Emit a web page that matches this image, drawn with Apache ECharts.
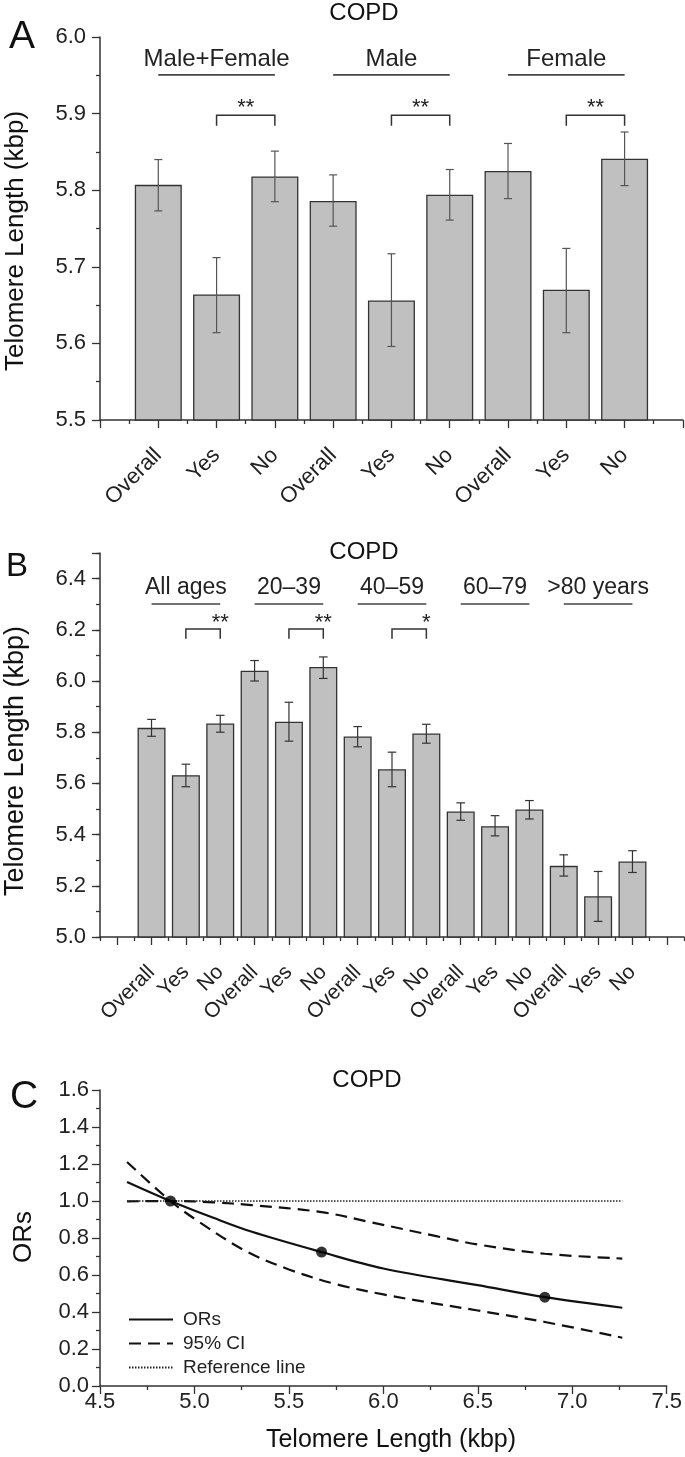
<!DOCTYPE html>
<html><head><meta charset="utf-8">
<script src="https://cdn.jsdelivr.net/npm/echarts@6/dist/echarts.min.js"></script>
<style>html,body{margin:0;padding:0;background:#fff}#c{width:685px;height:1457px}</style>
</head><body><div id="c"></div>
<script>
// ---------- Panel A data ----------
const aCategories = ['Overall','Yes','No','Overall','Yes','No','Overall','Yes','No'];
const aMeans   = [5.807,5.664,5.818,5.786,5.656,5.794,5.825,5.670,5.841];
const aErrLow  = [5.773,5.614,5.785,5.753,5.596,5.761,5.789,5.614,5.806];
const aErrHigh = [5.840,5.712,5.851,5.820,5.717,5.827,5.861,5.724,5.876];
const aGroups = ['Male+Female','Male','Female'];
const aGroupSpans = [[1,3],[4,6],[7,9]];
const aSig = [[2,3,'**'],[5,6,'**'],[8,9,'**']];

// ---------- Panel B data ----------
const bCategories = ['Overall','Yes','No','Overall','Yes','No','Overall','Yes','No','Overall','Yes','No','Overall','Yes','No'];
const bMeans   = [5.817,5.632,5.834,6.040,5.841,6.055,5.783,5.655,5.795,5.490,5.433,5.498,5.278,5.159,5.295];
const bErrLow  = [5.784,5.587,5.800,6.000,5.765,6.010,5.743,5.587,5.757,5.456,5.395,5.461,5.238,5.061,5.252];
const bErrHigh = [5.850,5.675,5.866,6.080,5.917,6.094,5.822,5.722,5.831,5.524,5.474,5.533,5.321,5.256,5.337];
const bGroups = ['All ages','20\u201339','40\u201359','60\u201379','>80 years'];
const bGroupSpans = [[1,3],[4,6],[7,9],[10,12],[13,15]];
const bSig = [[2,3,'**'],[5,6,'**'],[8,9,'*']];

// ---------- Panel C data ----------
const cOrX = [4.643,4.873,5.1,5.3,5.673,6.0,6.5,6.855,7.265];
const cOrY = [1.103,1.0,0.909,0.835,0.724,0.635,0.545,0.48,0.423];
const cUpperX = [4.643,4.873,5.1,5.3,5.673,5.93,6.28,6.5,6.855,7.265];
const cUpperY = [0.998,1.0,0.993,0.978,0.94,0.886,0.81,0.765,0.715,0.689];
const cLowerX = [4.643,4.873,5.012,5.265,5.5,5.75,6.0,6.25,6.5,6.855,7.265];
const cLowerY = [1.211,1.0,0.896,0.733,0.63,0.55,0.495,0.45,0.408,0.346,0.261];
const cRefX = [4.643,7.265];
const cRefY = [1.0,1.0];
const cKnotX = [4.873,5.673,6.855];
const cKnotY = [1.0,0.724,0.48];

const FF = '"Liberation Sans", Arial, Helvetica, sans-serif';
const INK = '#222';
const zip = (xs, ys) => xs.map((x, i) => [x, ys[i]]);

const axisLine = {show:true, lineStyle:{color:'#333', width:1.5}};
const tickMaj = {show:true, length:8, lineStyle:{color:'#333', width:1.3}};
const tickMin = {show:true, splitNumber:2, length:4, lineStyle:{color:'#333', width:1.3}};

function errRender(capHalf, color, width){
  return function(params, api){
    const x = api.value(0), lo = api.value(1), hi = api.value(2);
    const pHi = api.coord([x, hi]), pLo = api.coord([x, lo]);
    const st = {stroke:color, lineWidth:width};
    return {type:'group', children:[
      {type:'line', shape:{x1:pHi[0], y1:pHi[1], x2:pLo[0], y2:pLo[1]}, style:st},
      {type:'line', shape:{x1:pHi[0]-capHalf, y1:pHi[1], x2:pHi[0]+capHalf, y2:pHi[1]}, style:st},
      {type:'line', shape:{x1:pLo[0]-capHalf, y1:pLo[1], x2:pLo[0]+capHalf, y2:pLo[1]}, style:st}
    ]};
  };
}
function groupRender(labels, lineY, textY, fontSize){
  return function(params, api){
    const x1 = api.value(0), x2 = api.value(1);
    const p1 = api.coord([x1, lineY]), p2 = api.coord([x2, lineY]);
    const pt = api.coord([(x1+x2)/2, textY]);
    return {type:'group', children:[
      {type:'line', shape:{x1:p1[0], y1:p1[1], x2:p2[0], y2:p2[1]}, style:{stroke:'#444', lineWidth:1.6}},
      {type:'text', x:pt[0], y:pt[1], style:{text:labels[params.dataIndex], fill:INK, font:fontSize+'px '+FF,
        align:'center', verticalAlign:'middle', textAlign:'center', textVerticalAlign:'middle'}}
    ]};
  };
}
function sigRender(marks, topY, legY, starY, fontSize){
  return function(params, api){
    const x1 = api.value(0), x2 = api.value(1);
    const a = api.coord([x1, topY]), b = api.coord([x2, topY]);
    const al = api.coord([x1, legY]), bl = api.coord([x2, legY]);
    const ps = api.coord([(x1+x2)/2, starY]);
    return {type:'group', children:[
      {type:'polyline', shape:{points:[[al[0],al[1]],[a[0],a[1]],[b[0],b[1]],[bl[0],bl[1]]]}, style:{stroke:'#333', lineWidth:1.5, fill:null}},
      {type:'text', x:ps[0], y:ps[1], style:{text:marks[params.dataIndex], fill:INK, font:fontSize+'px '+FF,
        align:'center', verticalAlign:'middle', textAlign:'center', textVerticalAlign:'middle'}}
    ]};
  };
}
function gtext(text, x, y, size, rot){
  return {type:'text', x:x, y:y, rotation:rot||0, style:{text:text, fill:'#111', font:size+'px '+FF,
    align:'center', verticalAlign:'middle', textAlign:'center', textVerticalAlign:'middle'}};
}

const bCatsPadded = [''].concat(bCategories, ['']);

const option = {
  animation:false,
  backgroundColor:'#fff',
  textStyle:{fontFamily:FF},
  grid:[
    {left:100, right:1, top:37, bottom:1037},
    {left:100, right:1, top:553, bottom:520},
    {left:100, right:17, top:1090, bottom:71}
  ],
  xAxis:[
    {gridIndex:0, type:'value', position:'bottom', min:0, max:10, interval:1, axisLine:axisLine, axisTick:tickMaj, minorTick:tickMin,
     splitLine:{show:false}, minorSplitLine:{show:false},
     axisLabel:{rotate:45, margin:32, fontSize:22, color:INK, fontFamily:FF,
       formatter:v => (Number.isInteger(v) && v>=1 && v<=9) ? aCategories[v-1] : ''}},
    {gridIndex:1, type:'category', position:'bottom', offset:0, data:bCatsPadded, boundaryGap:true, axisLine:axisLine,
     axisTick:{show:true, alignWithLabel:true, interval:0, length:8, lineStyle:{color:'#333', width:1.3}},
     axisLabel:{interval:0, rotate:45, margin:32, fontSize:21, color:INK, fontFamily:FF}, splitLine:{show:false}},
    {gridIndex:1, type:'category', position:'bottom', offset:0, data:bCatsPadded, boundaryGap:true, axisLine:{show:false},
     axisTick:{show:true, alignWithLabel:false, interval:0, length:4, lineStyle:{color:'#333', width:1.3}},
     axisLabel:{show:false}, splitLine:{show:false}},
    {gridIndex:2, type:'value', position:'bottom', min:4.5, max:7.5, interval:0.5, axisLine:axisLine, axisTick:tickMaj, minorTick:tickMin,
     splitLine:{show:false}, minorSplitLine:{show:false},
     axisLabel:{margin:5, fontSize:22, color:INK, fontFamily:FF, formatter:v => v.toFixed(1)}}
  ],
  yAxis:[
    {gridIndex:0, type:'value', position:'left', min:5.5, max:6.0, interval:0.1, axisLine:axisLine, axisTick:tickMaj, minorTick:tickMin,
     splitLine:{show:false}, minorSplitLine:{show:false},
     axisLabel:{margin:14, fontSize:22, color:INK, fontFamily:FF, formatter:v => v.toFixed(1)}},
    {gridIndex:1, type:'value', position:'left', offset:0, min:5.0, max:6.5, interval:0.2, axisLine:axisLine, axisTick:tickMaj,
     splitLine:{show:false},
     axisLabel:{margin:14, fontSize:22, color:INK, fontFamily:FF, formatter:v => v > 6.45 ? '' : v.toFixed(1)}},
    {gridIndex:1, type:'value', position:'left', offset:0, min:5.0, max:6.5, interval:0.1, axisLine:{show:false},
     axisTick:{show:true, length:4, lineStyle:{color:'#333', width:1.3}}, splitLine:{show:false}, axisLabel:{show:false}},
    {gridIndex:2, type:'value', position:'left', min:0, max:1.6, interval:0.2, axisLine:axisLine, axisTick:tickMaj, minorTick:tickMin,
     splitLine:{show:false}, minorSplitLine:{show:false},
     axisLabel:{margin:11, fontSize:22, color:INK, fontFamily:FF, formatter:v => v.toFixed(1)}}
  ],
  legend:{orient:'vertical', left:123, top:1305, itemWidth:44, itemHeight:14, itemGap:5,
    data:['ORs','95% CI','Reference line'],
    itemStyle:{opacity:0},
    textStyle:{fontSize:19, lineHeight:19, fontFamily:FF, color:INK, padding:[0,0,0,5]}},
  graphic:[
    gtext('COPD', 364, 13, 24), gtext('A', 22, 37, 39),
    gtext('Telomere Length (kbp)', 16, 241, 26, Math.PI/2),
    gtext('COPD', 364, 552, 24), gtext('B', 17, 567, 33),
    gtext('Telomere Length (kbp)', 16, 761, 27, Math.PI/2),
    gtext('COPD', 367, 1080, 24), gtext('C', 24, 1097, 39),
    gtext('ORs', 24, 1237, 26, Math.PI/2),
    gtext('Telomere Length (kbp)', 391, 1440, 25)
  ],
  series:[
    // Panel A
    {type:'bar', xAxisIndex:0, yAxisIndex:0, barWidth:47, z:2,
     itemStyle:{color:'#c0c0c0', borderColor:'#333', borderWidth:1.3},
     data:aMeans.map((v,i) => [i+1, v])},
    {type:'custom', xAxisIndex:0, yAxisIndex:0, z:3, renderItem:errRender(4, '#555', 1.2),
     data:aMeans.map((v,i) => [i+1, aErrLow[i], aErrHigh[i]])},
    {type:'custom', xAxisIndex:0, yAxisIndex:0, z:3, renderItem:groupRender(aGroups, 5.9505, 5.971, 24),
     data:aGroupSpans.map(s => [s[0], s[1]])},
    {type:'custom', xAxisIndex:0, yAxisIndex:0, z:3, renderItem:sigRender(aSig.map(s=>s[2]), 5.898, 5.884, 5.908, 22),
     data:aSig.map(s => [s[0], s[1]])},
    // Panel B
    {type:'bar', xAxisIndex:1, yAxisIndex:1, barWidth:28, z:2,
     itemStyle:{color:'#c0c0c0', borderColor:'#333', borderWidth:1.3},
     data:bMeans.map((v,i) => [i+1, v])},
    {type:'custom', xAxisIndex:1, yAxisIndex:1, z:3, renderItem:errRender(4.3, '#333', 1.2),
     data:bMeans.map((v,i) => [i+1, bErrLow[i], bErrHigh[i]])},
    {type:'custom', xAxisIndex:1, yAxisIndex:1, z:3, renderItem:groupRender(bGroups, 6.301, 6.364, 23),
     data:bGroupSpans.map(s => [s[0], s[1]])},
    {type:'custom', xAxisIndex:1, yAxisIndex:1, z:3, renderItem:sigRender(bSig.map(s=>s[2]), 6.203, 6.165, 6.225, 22),
     data:bSig.map(s => [s[0], s[1]])},
    // Panel C
    {name:'ORs', type:'line', xAxisIndex:3, yAxisIndex:3, smooth:0.35, symbol:'none',
     itemStyle:{color:'#111'}, lineStyle:{color:'#111', width:2.2, type:'solid'}, data:zip(cOrX, cOrY)},
    {name:'95% CI', type:'line', xAxisIndex:3, yAxisIndex:3, smooth:0.35, symbol:'none',
     itemStyle:{color:'#111'}, lineStyle:{color:'#111', width:2.2, type:[12,7]}, data:zip(cUpperX, cUpperY)},
    {name:'95% CI', type:'line', xAxisIndex:3, yAxisIndex:3, smooth:0.35, symbol:'none',
     itemStyle:{color:'#111'}, lineStyle:{color:'#111', width:2.2, type:[12,7]}, data:zip(cLowerX, cLowerY)},
    {name:'Reference line', type:'line', xAxisIndex:3, yAxisIndex:3, symbol:'none',
     itemStyle:{color:'#222'}, lineStyle:{color:'#222', width:1.5, type:[1.5,1.5]}, data:zip(cRefX, cRefY)},
    {type:'scatter', xAxisIndex:3, yAxisIndex:3, symbol:'circle', symbolSize:11, z:5,
     itemStyle:{color:'#000'}, data:zip(cKnotX, cKnotY)}
  ]
};
const chart = echarts.init(document.getElementById('c'), null, {renderer:'canvas'});
chart.setOption(option);
</script>
</body></html>
